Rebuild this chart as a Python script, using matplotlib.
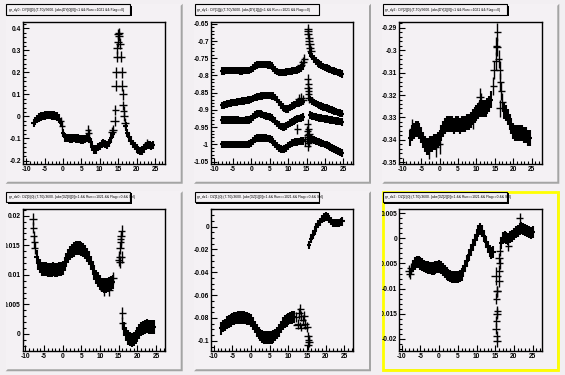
import matplotlib
matplotlib.use("Agg")
import matplotlib.pyplot as plt
from matplotlib.patches import Rectangle, Polygon
from matplotlib.transforms import Bbox, TransformedBbox
from matplotlib.ticker import MultipleLocator

plt.rcParams['font.family'] = ['Liberation Sans', 'DejaVu Sans']

# ------------------------------------------------------------------ data
x_ticks = [-10, -5, 0, 5, 10, 15, 20, 25]
x_ticklabels = ["-10", "-5", "0", "5", "10", "15", "20", "25"]

titles = [
    "gr_dy0 : DY[0][0]:(T-T0)/3600. {abs(DY[0][0])<1 && Run==1021 && Flag==0}",
    "gr_dy1 : DY[1][j]:(T-T0)/3600. {abs(DY[1][j])<1 && Run==1021 && Flag==0}",
    "gr_dy2 : DY[2][0]:(T-T0)/3600. {abs(DY[2][0])<1 && Run==1021 && Flag==0}",
    "gr_dz0 : DZ[0][0]:(T-T0)/3600. {abs(DZ[0][0])<1 && Run==1021 && Flag==0 && Sel}",
    "gr_dz1 : DZ[1][0]:(T-T0)/3600. {abs(DZ[1][0])<1 && Run==1021 && Flag==0 && Sel}",
    "gr_dz2 : DZ[2][0]:(T-T0)/3600. {abs(DZ[2][0])<1 && Run==1021 && Flag==0 && Sel}",
]

# ---- pad 1
p1_x = [-8.0, -7.5, -7.0, -6.5, -6.0, -5.5, -5.0, -4.5, -4.0, -3.5, -3.0, -2.5, -2.0, -1.5,
        -1.0, -0.5, 0.0, 0.5, 1.0, 1.5, 2.0, 2.5, 3.0, 3.5, 4.0, 4.5, 5.0, 5.5, 6.0, 6.5,
        7.0, 7.5, 8.0, 8.5, 9.0, 9.5, 10.0, 10.5, 11.0, 11.5, 12.0, 12.5, 13.0, 13.5,
        17.0, 17.5, 18.0, 18.5, 19.0, 19.5, 20.0, 20.5, 21.0, 21.5, 22.0, 22.5, 23.0, 23.5,
        24.0, 24.5]
p1_y = [-0.030, -0.020, -0.012, -0.005, 0.000, 0.003, 0.005, 0.006, 0.006, 0.006, 0.005, 0.004,
        0.002, 0.000, -0.010, -0.030, -0.075, -0.095, -0.097, -0.098, -0.100, -0.100, -0.098,
        -0.100, -0.100, -0.102, -0.104, -0.105, -0.102, -0.098, -0.100, -0.115, -0.140, -0.150,
        -0.150, -0.140, -0.135, -0.125, -0.120, -0.125, -0.130, -0.120, -0.100, -0.080,
        -0.045, -0.075, -0.095, -0.110, -0.125, -0.135, -0.145, -0.152, -0.158, -0.155, -0.145,
        -0.135, -0.130, -0.130, -0.133, -0.130]
p1_pk_x = [13.2, 13.6, 14.0, 14.2, 14.3, 14.5, 14.7, 14.8, 14.9, 15.0, 15.2, 15.3, 15.5, 15.7,
           15.9, 16.1, 16.3, 16.4, 16.5, 16.6, 16.8, 6.8, 7.0, -0.5, -0.3, 22.8]
p1_pk_y = [-0.070, -0.060, -0.020, 0.030, 0.140, 0.200, 0.270, 0.310, 0.340, 0.375, 0.380, 0.365,
           0.330, 0.270, 0.200, 0.140, 0.100, 0.050, 0.025, 0.000, -0.030, -0.060, -0.075,
           -0.020, -0.045, -0.120]
p1_pk_ex = [1.1, 1.1, 1.1, 1.0, 1.2, 1.2, 1.2, 1.1, 1.1, 1.1, 1.1, 1.1, 1.1, 1.2, 1.2, 1.2, 1.1,
            1.1, 1.0, 1.0, 1.0, 0.9, 0.9, 0.9, 0.9, 0.9]
p1_pk_ey = [0.022, 0.022, 0.022, 0.022, 0.025, 0.025, 0.025, 0.025, 0.025, 0.022, 0.022, 0.022,
            0.025, 0.025, 0.025, 0.025, 0.025, 0.022, 0.022, 0.022, 0.022, 0.020, 0.020, 0.018,
            0.018, 0.018]

# ---- pad 2 (four series on a common time grid)
p2_x = [-8.0, -7.5, -7.0, -6.5, -6.0, -5.5, -5.0, -4.5, -4.0, -3.5, -3.0, -2.5, -2.0, -1.5,
        -1.0, -0.5, 0.0, 0.5, 1.0, 1.5, 2.0, 2.5, 3.0, 3.5, 4.0, 4.5, 5.0, 5.5, 6.0, 6.5,
        7.0, 7.5, 8.0, 8.5, 9.0, 9.5, 10.0, 10.5, 11.0, 11.5, 12.0, 12.5, 13.0, 13.5, 14.0,
        16.0, 16.5, 17.0, 17.5, 18.0, 18.5, 19.0, 19.5, 20.0, 20.5, 21.0, 21.5, 22.0, 22.5,
        23.0, 23.5, 24.0, 24.5]
p2a_y = [-0.787, -0.787, -0.786, -0.786, -0.786, -0.786, -0.786, -0.786, -0.786, -0.786, -0.787,
         -0.787, -0.786, -0.786, -0.786, -0.785, -0.783, -0.778, -0.773, -0.770, -0.768, -0.768,
         -0.768, -0.768, -0.768, -0.769, -0.770, -0.773, -0.778, -0.784, -0.789, -0.791, -0.792,
         -0.792, -0.791, -0.790, -0.789, -0.788, -0.787, -0.786, -0.785, -0.784, -0.782, -0.779,
         -0.773,
         -0.735, -0.745, -0.752, -0.758, -0.763, -0.767, -0.770, -0.774, -0.777, -0.779, -0.781,
         -0.783, -0.785, -0.787, -0.789, -0.791, -0.793, -0.795]
p2b_y = [-0.887, -0.886, -0.884, -0.883, -0.882, -0.880, -0.879, -0.878, -0.877, -0.876, -0.876,
         -0.875, -0.874, -0.873, -0.872, -0.871, -0.870, -0.867, -0.864, -0.862, -0.861, -0.860,
         -0.859, -0.858, -0.858, -0.858, -0.858, -0.859, -0.860, -0.864, -0.870, -0.878, -0.886,
         -0.892, -0.896, -0.898, -0.897, -0.893, -0.889, -0.886, -0.884, -0.882, -0.880, -0.878,
         -0.876,
         -0.870, -0.874, -0.878, -0.881, -0.884, -0.887, -0.889, -0.891, -0.893, -0.895, -0.897,
         -0.899, -0.901, -0.903, -0.905, -0.907, -0.909, -0.911]
p2c_y = [-0.930, -0.930, -0.930, -0.930, -0.930, -0.930, -0.930, -0.930, -0.930, -0.930, -0.931,
         -0.931, -0.931, -0.930, -0.930, -0.929, -0.926, -0.920, -0.915, -0.912, -0.911, -0.912,
         -0.914, -0.916, -0.918, -0.919, -0.921, -0.924, -0.928, -0.933, -0.939, -0.944, -0.948,
         -0.950, -0.949, -0.946, -0.942, -0.938, -0.935, -0.932, -0.929, -0.927, -0.925, -0.923,
         -0.921,
         -0.915, -0.917, -0.919, -0.921, -0.922, -0.923, -0.924, -0.925, -0.926, -0.927, -0.928,
         -0.929, -0.930, -0.931, -0.932, -0.933, -0.934, -0.935]
p2d_y = [-1.000, -1.000, -1.000, -1.000, -1.000, -1.000, -1.000, -1.000, -1.000, -1.000, -1.000,
         -1.000, -1.000, -1.000, -1.000, -0.999, -0.996, -0.990, -0.985, -0.982, -0.981, -0.981,
         -0.981, -0.982, -0.982, -0.983, -0.985, -0.988, -0.993, -0.999, -1.005, -1.010, -1.014,
         -1.015, -1.014, -1.010, -1.005, -1.000, -0.997, -0.995, -0.994, -0.993, -0.992, -0.991,
         -0.990,
         -0.985, -0.986, -0.988, -0.990, -0.992, -0.994, -0.996, -0.998, -1.000, -1.002, -1.005,
         -1.008, -1.011, -1.014, -1.017, -1.020, -1.023, -1.025]
p2_pk_x = [13.5, 14.0, 14.4, 15.3, 15.5, 15.5, 15.7, 15.6, 15.8, 16.0, 16.2,
           15.3, 15.5, 15.4, 15.6, 15.5, 15.7, 13.0, 13.5, 14.0,
           12.5, 15.3, 15.5, 15.7, 15.4,
           15.2, 15.4, 15.0, 15.6, 15.3, 14.5]
p2_pk_y = [-0.770, -0.760, -0.752, -0.665, -0.672, -0.680, -0.690, -0.700, -0.710, -0.720, -0.728,
           -0.810, -0.825, -0.835, -0.845, -0.855, -0.865, -0.868, -0.865, -0.870,
           -0.955, -0.940, -0.955, -0.970, -0.980,
           -0.960, -0.972, -0.985, -0.995, -1.005, -0.990]
p2_pk_ex = [1.1, 1.1, 1.0, 1.1, 1.1, 1.1, 1.1, 1.1, 1.1, 1.1, 1.1,
            1.0, 1.0, 1.0, 1.0, 1.0, 1.0, 1.1, 1.1, 1.1,
            1.0, 1.0, 1.0, 1.0, 1.0,
            1.0, 1.0, 1.0, 1.0, 1.0, 1.0]
p2_pk_ey = [0.014, 0.014, 0.014, 0.014, 0.014, 0.014, 0.014, 0.014, 0.014, 0.014, 0.014,
            0.014, 0.014, 0.014, 0.014, 0.014, 0.014, 0.014, 0.014, 0.014,
            0.014, 0.014, 0.014, 0.014, 0.014,
            0.014, 0.014, 0.014, 0.014, 0.014, 0.014]

# ---- pad 3
p3_x = [-8.0, -7.5, -7.0, -6.5, -6.0, -5.5, -5.0, -4.5, -4.0, -3.5, -3.0, -2.5, -2.0, -1.5,
        -1.0, -0.5, 0.0, 0.5, 1.0, 1.5, 2.0, 2.5, 3.0, 3.5, 4.0, 4.5, 5.0, 5.5, 6.0, 6.5,
        7.0, 7.5, 8.0, 8.5, 9.0, 9.5, 10.0, 10.5, 11.0, 11.5, 12.0, 12.5, 13.0, 13.5, 14.0,
        17.5, 18.0, 18.5, 19.0, 19.5, 20.0, 20.5, 21.0, 21.5, 22.0, 22.5, 23.0, 23.5, 24.0,
        24.5]
p3_y = [-0.3390, -0.3370, -0.3360, -0.3350, -0.3350, -0.3360, -0.3380, -0.3400, -0.3420,
        -0.3430, -0.3430, -0.3420, -0.3420, -0.3410, -0.3410, -0.3400, -0.3390, -0.3370,
        -0.3350, -0.3340, -0.3330, -0.3330, -0.3330, -0.3330, -0.3340, -0.3330, -0.3330,
        -0.3340, -0.3330, -0.3330, -0.3330, -0.3320, -0.3320, -0.3310, -0.3300, -0.3290,
        -0.3280, -0.3270, -0.3260, -0.3260, -0.3260, -0.3260, -0.3250, -0.3240, -0.3220,
        -0.3270, -0.3280, -0.3300, -0.3320, -0.3340, -0.3360, -0.3370, -0.3370, -0.3370,
        -0.3370, -0.3370, -0.3380, -0.3380, -0.3390, -0.3390]
p3_pk_x = [11.0, 11.3, 14.6, 14.8, 15.2, 15.4, 15.6, 15.7, 16.0, 16.3, 16.5, 16.8, 17.0, 16.4,
           -7.5, -3.0, -1.0, 0.0, 9.0]
p3_pk_y = [-0.3210, -0.3230, -0.3160, -0.3090, -0.3050, -0.2980, -0.2985, -0.2920, -0.3040,
           -0.3090, -0.3140, -0.3180, -0.3230, -0.3260, -0.3350, -0.3440, -0.3430, -0.3420,
           -0.3310]
p3_pk_ex = [1.0, 1.0, 1.0, 1.0, 1.0, 1.0, 1.0, 1.0, 1.0, 1.0, 1.0, 1.0, 1.0, 1.0, 0.8, 0.8,
            0.8, 0.8, 0.8]
p3_pk_ey = [0.0040, 0.0040, 0.0040, 0.0040, 0.0040, 0.0040, 0.0040, 0.0040, 0.0040, 0.0040,
            0.0040, 0.0040, 0.0040, 0.0040, 0.0045, 0.0045, 0.0045, 0.0045, 0.0040]

# ---- pad 4
p4_x = [-7.0, -6.5, -6.0, -5.5, -5.0, -4.5, -4.0, -3.5, -3.0, -2.5, -2.0, -1.5, -1.0, -0.5,
        0.0, 0.5, 1.0, 1.5, 2.0, 2.5, 3.0, 3.5, 4.0, 4.5, 5.0, 5.5, 6.0, 6.5, 7.0, 7.5, 8.0,
        8.5, 9.0, 9.5, 10.0, 10.5, 11.0, 11.5, 12.0, 12.5, 13.0, 13.5,
        16.5, 17.0, 17.5, 18.0, 18.5, 19.0, 19.5, 20.0, 20.5, 21.0, 21.5, 22.0, 22.5, 23.0,
        23.5, 24.0, 24.5]
p4_y = [0.0130, 0.0120, 0.0115, 0.0110, 0.0110, 0.0110, 0.0108, 0.0108, 0.0108, 0.0110,
        0.0108, 0.0108, 0.0110, 0.0110, 0.0112, 0.0118, 0.0125, 0.0132, 0.0137, 0.0140, 0.0143,
        0.0145, 0.0145, 0.0145, 0.0144, 0.0142, 0.0139, 0.0134, 0.0128, 0.0120, 0.0112, 0.0104,
        0.0097, 0.0092, 0.0087, 0.0083, 0.0082, 0.0082, 0.0083, 0.0085, 0.0086, 0.0088,
        0.0008, 0.0000, -0.0006, -0.0009, -0.0010, -0.0008, -0.0005, -0.0001, 0.0004, 0.0008,
        0.0010, 0.0012, 0.0013, 0.0012, 0.0012, 0.0012, 0.0012]
p4_pk_x = [-8.0, -7.9, -7.8, -7.6, -7.5, 13.5, 15.0, 15.2, 15.3, 15.5, 15.6, 15.8, 15.5, 15.8,
           15.4, 16.0, 16.0, 11.0, 12.5]
p4_pk_y = [0.0195, 0.0180, 0.0165, 0.0155, 0.0145, 0.0095, 0.0125, 0.0130, 0.0145, 0.0160,
           0.0165, 0.0175, 0.0155, 0.0130, 0.0122, 0.0035, 0.0018, 0.0075, 0.0075]
p4_pk_ex = [1.0, 1.0, 1.0, 1.0, 1.0, 1.0, 1.0, 1.0, 1.0, 1.0, 1.0, 1.0, 1.0, 1.0, 1.0, 1.0, 1.0,
            1.0, 1.0]
p4_pk_ey = [0.0010, 0.0010, 0.0010, 0.0010, 0.0010, 0.0010, 0.0010, 0.0010, 0.0010, 0.0010,
            0.0010, 0.0010, 0.0010, 0.0010, 0.0010, 0.0010, 0.0010, 0.0010, 0.0010]

# ---- pad 5
p5_x = [-8.0, -7.5, -7.0, -6.5, -6.0, -5.5, -5.0, -4.5, -4.0, -3.5, -3.0, -2.5, -2.0, -1.5,
        -1.0, -0.5, 0.0, 0.5, 1.0, 1.5, 2.0, 2.5, 3.0, 3.5, 4.0, 4.5, 5.0, 5.5, 6.0, 6.5,
        7.0, 7.5, 8.0, 8.5, 9.0, 9.5, 10.0, 10.5, 11.0, 11.5,
        15.5, 16.0, 16.5, 17.0, 17.5, 18.0, 18.5, 19.0, 19.5, 20.0, 20.5, 21.0, 21.5, 22.0,
        22.5, 23.0, 23.5, 24.0, 24.5]
p5_y = [-0.0890, -0.0870, -0.0860, -0.0840, -0.0830, -0.0820, -0.0810, -0.0805, -0.0800,
        -0.0798, -0.0797, -0.0797, -0.0798, -0.0800, -0.0805, -0.0810, -0.0820, -0.0850,
        -0.0880, -0.0910, -0.0930, -0.0950, -0.0960, -0.0970, -0.0970, -0.0970, -0.0970,
        -0.0970, -0.0960, -0.0950, -0.0930, -0.0910, -0.0880, -0.0850, -0.0830, -0.0820,
        -0.0810, -0.0800, -0.0795, -0.0790,
        -0.0160, -0.0110, -0.0075, -0.0040, -0.0005, 0.0020, 0.0040, 0.0065, 0.0080, 0.0088,
        0.0085, 0.0065, 0.0050, 0.0035, 0.0030, 0.0030, 0.0035, 0.0040, 0.0045]
p5_pk_x = [12.0, 12.5, 12.8, 13.2, 13.5, 13.8, 14.3, 14.5, 15.0, 13.0, 13.5, 15.2, 15.4, 15.5,
           15.3]
p5_pk_y = [-0.0790, -0.0850, -0.0760, -0.0720, -0.0780, -0.0820, -0.0780, -0.0850, -0.0880,
           -0.0860, -0.0890, -0.0960, -0.0990, -0.1010, -0.1040]
p5_pk_ex = [1.0, 1.0, 1.0, 1.0, 1.0, 1.0, 1.0, 1.0, 1.0, 1.8, 1.8, 1.0, 1.0, 1.0, 1.0]
p5_pk_ey = [0.0045, 0.0045, 0.0045, 0.0045, 0.0045, 0.0045, 0.0045, 0.0045, 0.0045, 0.0025,
            0.0025, 0.0040, 0.0040, 0.0040, 0.0040]

# ---- pad 6
p6_x = [-7.0, -6.5, -6.0, -5.5, -5.0, -4.5, -4.0, -3.5, -3.0, -2.5, -2.0, -1.5, -1.0, -0.5,
        0.0, 0.5, 1.0, 1.5, 2.0, 2.5, 3.0, 3.5, 4.0, 4.5, 5.0, 5.5, 6.0, 6.5, 7.0, 7.5, 8.0,
        8.5, 9.0, 9.5, 10.0, 10.5, 11.0, 11.5, 12.0, 12.5, 13.0, 13.5, 14.0, 14.5,
        16.5, 17.0, 17.5, 18.0, 18.5, 19.0, 19.5, 20.0, 20.5, 21.0, 21.5, 22.0, 22.5, 23.0,
        23.5, 24.0, 24.5, 25.0]
p6_y = [-0.0055, -0.0050, -0.0047, -0.0047, -0.0050, -0.0052, -0.0055, -0.0057, -0.0058,
        -0.0059, -0.0060, -0.0060, -0.0058, -0.0057, -0.0056, -0.0058, -0.0062, -0.0066,
        -0.0070, -0.0073, -0.0075, -0.0076, -0.0077, -0.0077, -0.0076, -0.0075, -0.0072,
        -0.0065, -0.0055, -0.0045, -0.0033, -0.0023, -0.0013, -0.0003, 0.0007, 0.0015, 0.0019,
        0.0015, 0.0005, -0.0007, -0.0018, -0.0025, -0.0030, -0.0028,
        -0.0010, 0.0000, 0.0003, 0.0000, -0.0002, 0.0002, 0.0005, 0.0008, 0.0012, 0.0015,
        0.0018, 0.0020, 0.0018, 0.0016, 0.0015, 0.0013, 0.0010, 0.0012]
p6_pk_x = [-8.0, -7.8, -7.5, 15.3, 15.5, 15.6, 15.3, 15.6, 15.5, 15.3, 15.2, 15.4, 15.5, 16.0,
           16.1, 16.2, 16.0, 16.2, 21.5, 18.5]
p6_pk_y = [-0.0065, -0.0070, -0.0060, -0.0075, -0.0105, -0.0105, -0.0120, -0.0145, -0.0150,
           -0.0165, -0.0180, -0.0195, -0.0205, -0.0085, -0.0065, -0.0050, -0.0040, -0.0025,
           0.0040, -0.0015]
p6_pk_ex = [1.0, 1.0, 1.0, 1.3, 1.0, 1.0, 1.0, 1.0, 1.0, 1.0, 1.0, 1.0, 1.0, 1.0, 1.0, 1.0,
            1.0, 1.0, 1.0, 1.0]
p6_pk_ey = [0.0011, 0.0011, 0.0011, 0.0017, 0.0011, 0.0011, 0.0011, 0.0011, 0.0011, 0.0011,
            0.0011, 0.0011, 0.0011, 0.0011, 0.0011, 0.0011, 0.0011, 0.0011, 0.0011, 0.0011]

# y tick values / labels per pad
p1_yticks = [0.4, 0.3, 0.2, 0.1, 0.0, -0.1, -0.2]
p1_ylabels = ["0.4", "0.3", "0.2", "0.1", "0", "-0.1", "-0.2"]
p2_yticks = [-0.65, -0.7, -0.75, -0.8, -0.85, -0.9, -0.95, -1.0, -1.05]
p2_ylabels = ["-0.65", "-0.7", "-0.75", "-0.8", "-0.85", "-0.9", "-0.95", "-1", "-1.05"]
p3_yticks = [-0.29, -0.30, -0.31, -0.32, -0.33, -0.34, -0.35]
p3_ylabels = ["-0.29", "-0.3", "-0.31", "-0.32", "-0.33", "-0.34", "-0.35"]
p4_yticks = [0.02, 0.015, 0.01, 0.005, 0.0]
p4_ylabels = ["0.02", "0.015", "0.01", "0.005", "0"]
p5_yticks = [0.0, -0.02, -0.04, -0.06, -0.08, -0.1]
p5_ylabels = ["0", "-0.02", "-0.04", "-0.06", "-0.08", "-0.1"]
p6_yticks = [0.005, 0.0, -0.005, -0.01, -0.015, -0.02]
p6_ylabels = ["0.005", "0", "-0.005", "-0.01", "-0.015", "-0.02"]

# ------------------------------------------------------------------ style
W, H = 565, 375
BG = "#f2eff2"
PAD = "#f4f1f4"
SHADOW = "#a4a4a4"
BAND_EX = 0.6

fig = plt.figure(figsize=(W / 100, H / 100), dpi=100)
fig.patch.set_facecolor(BG)

cols = [(5.65, 182.7), (194.0, 371.0), (382.3, 559.3)]
rows = [(3.75, 183.75), (191.25, 371.25)]


def fx(px):
    return px / W


def fy(py):
    return 1 - py / H


def draw_pad(ci, ri, selected=False):
    x0, x1 = cols[ci]
    y0, y1 = rows[ri]
    fig.patches.append(Rectangle((fx(x0), fy(y1)), fx(x1 - x0), (y1 - y0) / H,
                                 transform=fig.transFigure, facecolor=PAD, edgecolor='none',
                                 zorder=0))
    b = 2.0
    fig.patches.append(Polygon([(fx(x1), fy(y0)), (fx(x1), fy(y1)), (fx(x0), fy(y1)),
                                (fx(x0 + b), fy(y1 - b)), (fx(x1 - b), fy(y1 - b)),
                                (fx(x1 - b), fy(y0 + b))],
                               closed=True, transform=fig.transFigure, facecolor=SHADOW,
                               edgecolor='none', zorder=0.5))
    if selected:
        fig.patches.append(Rectangle((fx(x0 + 1), fy(y1 - 1)), fx(x1 - x0 - 2), (y1 - y0 - 2) / H,
                                     transform=fig.transFigure, facecolor='none',
                                     edgecolor='#ffff00', linewidth=2.0, zorder=0.6))
    return x0, x1, y0, y1


def title_box(x0, y0, pw, text):
    bx0, bx1 = x0 + 0.5, x0 + 0.705 * pw
    by0, by1 = y0 + 0.5, y0 + 11.0
    fig.patches.append(Rectangle((fx(bx0 + 1.5), fy(by1 + 1.5)), fx(bx1 - bx0), (by1 - by0) / H,
                                 transform=fig.transFigure, facecolor='black',
                                 edgecolor='none', zorder=2))
    fig.patches.append(Rectangle((fx(bx0), fy(by1)), fx(bx1 - bx0), (by1 - by0) / H,
                                 transform=fig.transFigure, facecolor=PAD,
                                 edgecolor='black', linewidth=0.8, zorder=3))
    fig.text(fx(bx0 + 2.5), fy((by0 + by1) / 2), text, fontsize=2.4, ha='left', va='center',
             color='black', zorder=4)


def make_axes(ci, ri, title, xlim, ylim, yticks, ylabels, yminor, selected=False):
    x0, x1, y0, y1 = draw_pad(ci, ri, selected)
    pw, ph = x1 - x0, y1 - y0
    ax_l = x0 + 0.097 * pw
    ax_r = x1 - 0.100 * pw
    ax_t = y0 + 0.100 * ph
    ax_b = y1 - 0.112 * ph
    ax = fig.add_axes([fx(ax_l), fy(ax_b), fx(ax_r - ax_l), (ax_b - ax_t) / H])
    ax.set_facecolor(PAD)
    ax.set_zorder(1)
    for s in ax.spines.values():
        s.set_linewidth(1.0)
        s.set_color('black')
    ax.set_xlim(*xlim)
    ax.set_ylim(*ylim)
    ax.set_xticks(x_ticks, x_ticklabels)
    ax.xaxis.set_minor_locator(MultipleLocator(1))
    ax.set_yticks(yticks, ylabels)
    ax.yaxis.set_minor_locator(MultipleLocator(yminor))
    ax.tick_params(axis='both', which='both', direction='in', top=False, right=False,
                   width=0.8, color='black')
    ax.tick_params(axis='both', which='major', length=4.0, labelsize=4.8, pad=1.5)
    ax.tick_params(axis='both', which='minor', length=2.0)
    for lbl in ax.get_xticklabels() + ax.get_yticklabels():
        lbl.set_fontweight('bold')
    clip = TransformedBbox(Bbox.from_extents(fx(x0), fy(y1), fx(x1), fy(y0)), fig.transFigure)
    for lbl in ax.get_yticklabels() + ax.get_xticklabels():
        lbl.set_clip_box(clip)
        lbl.set_clip_on(True)
    title_box(x0, y0, pw, title)
    return ax


def band(ax, x, y, ey):
    ax.errorbar(x, y, xerr=BAND_EX, yerr=ey, fmt='none', ecolor='black', elinewidth=1.5,
                capsize=0)


def crosses(ax, x, y, ex, ey):
    ax.errorbar(x, y, xerr=ex, yerr=ey, fmt='none', ecolor='black', elinewidth=1.0,
                capsize=0)


ax1 = make_axes(0, 0, titles[0], (-10.9, 27.7), (-0.214, 0.43), p1_yticks, p1_ylabels, 0.02)
band(ax1, p1_x, p1_y, 0.019)
crosses(ax1, p1_pk_x, p1_pk_y, p1_pk_ex, p1_pk_ey)

ax2 = make_axes(1, 0, titles[1], (-10.9, 27.7), (-1.056, -0.644), p2_yticks, p2_ylabels, 0.01)
for ys in (p2a_y, p2b_y, p2c_y, p2d_y):
    band(ax2, p2_x, ys, 0.011)
crosses(ax2, p2_pk_x, p2_pk_y, p2_pk_ex, p2_pk_ey)

ax3 = make_axes(2, 0, titles[2], (-10.9, 27.7), (-0.3506, -0.2873), p3_yticks, p3_ylabels, 0.002)
band(ax3, p3_x, p3_y, 0.0036)
crosses(ax3, p3_pk_x, p3_pk_y, p3_pk_ex, p3_pk_ey)

ax4 = make_axes(0, 1, titles[3], (-10.7, 27.4), (-0.0029, 0.0211), p4_yticks, p4_ylabels, 0.001)
band(ax4, p4_x, p4_y, 0.0012)
crosses(ax4, p4_pk_x, p4_pk_y, p4_pk_ex, p4_pk_ey)

ax5 = make_axes(1, 1, titles[4], (-10.7, 27.4), (-0.109, 0.0152), p5_yticks, p5_ylabels, 0.005)
band(ax5, p5_x[:40], p5_y[:40], 0.0055)
band(ax5, p5_x[40:], p5_y[40:], 0.0036)
crosses(ax5, p5_pk_x, p5_pk_y, p5_pk_ex, p5_pk_ey)

ax6 = make_axes(2, 1, titles[5], (-10.6, 27.4), (-0.02245, 0.0058), p6_yticks, p6_ylabels, 0.001,
                selected=True)
band(ax6, p6_x, p6_y, 0.0012)
crosses(ax6, p6_pk_x, p6_pk_y, p6_pk_ex, p6_pk_ey)

fig.savefig("out.png", dpi=100, facecolor=fig.get_facecolor())
